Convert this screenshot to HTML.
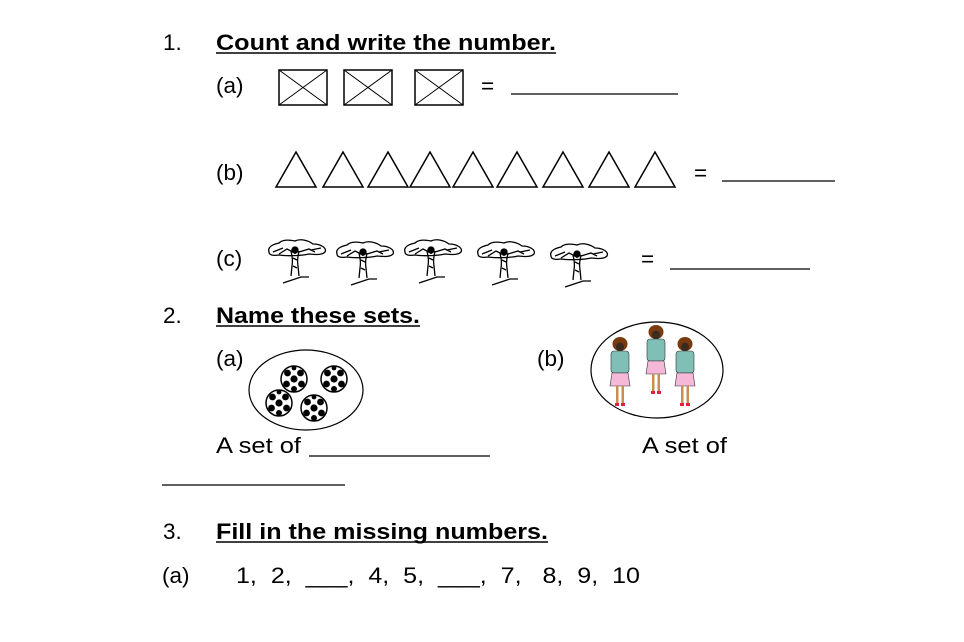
<!DOCTYPE html>
<html><head><meta charset="utf-8"><style>
html,body{margin:0;padding:0;background:#fff;width:964px;height:642px;overflow:hidden}
svg{display:block}
text{font-family:"Liberation Sans",Arial,sans-serif;font-size:22.5px;fill:#000}
.b{font-weight:bold}
</style></head><body>
<svg width="964" height="642" viewBox="0 0 964 642" xmlns="http://www.w3.org/2000/svg">
<defs>
<g id="box"><rect x="0" y="0" width="48" height="35" fill="none" stroke="#000" stroke-width="1.5"/><path d="M0 0L48 35M48 0L0 35" stroke="#000" stroke-width="1"/></g>
<g id="tri"><path d="M20 0L40 35H0Z" fill="none" stroke="#000" stroke-width="1.5"/></g>
<g id="tree" fill="none" stroke="#000" stroke-width="1.3">
<path d="M4 14 C2 8 10 6 14 5 C18 1 26 2 30 3 C36 0 44 3 48 6 C56 6 62 10 60 14 C56 18 48 16 44 16 C36 18 20 18 14 17 C8 18 4 17 4 14Z"/>
<path d="M14 16 L22 11 L28 14 M34 14 L44 11 L50 14 M30 10 L30 16 M8 14 L18 10 M46 12 L56 10"/>
<path d="M26 13 C27 18 28 22 27 28 L26 38 M34 13 C33 18 32 22 33 28 L34 38 M28 20 L32 22 M28 28 L32 30"/>
<path d="M18 45 L36 39 L44 39"/>
<circle cx="30" cy="12" r="3" fill="#000"/>
</g>
<g id="ball"><circle r="13" fill="#fff" stroke="#000" stroke-width="1.5"/>
<circle cx="0" cy="0" r="3.6" fill="#000"/><circle cx="-6.5" cy="-6" r="3.4" fill="#000"/><circle cx="6.5" cy="-6" r="3.4" fill="#000"/>
<circle cx="-7.5" cy="5" r="3.4" fill="#000"/><circle cx="7.5" cy="5" r="3.4" fill="#000"/><circle cx="0" cy="10" r="3" fill="#000"/><circle cx="0" cy="-11" r="2.4" fill="#000"/></g>
<g id="girl">
<ellipse cx="0" cy="5" rx="7.5" ry="7" fill="#7a3a10"/>
<ellipse cx="0" cy="8" rx="4" ry="4.5" fill="#3a2a20"/>
<rect x="-9" y="12" width="18" height="22" rx="3" fill="#7fbfb5" stroke="#333" stroke-width="0.6"/>
<path d="M-8 34 L8 34 L10 47 L-10 47Z" fill="#f5b8d6" stroke="#333" stroke-width="0.6"/>
<rect x="-4" y="47" width="2.5" height="18" fill="#c98d50"/><rect x="1.5" y="47" width="2.5" height="18" fill="#c98d50"/>
<rect x="-5" y="64" width="4" height="3" fill="#e02040"/><rect x="1" y="64" width="4" height="3" fill="#e02040"/>
</g>
</defs>

<text x="163" y="50">1.</text>
<text x="216" y="50" class="b" textLength="340" lengthAdjust="spacingAndGlyphs">Count and write the number.</text>
<line x1="216" y1="53" x2="556" y2="53" stroke="#000" stroke-width="1.5"/>

<text x="216" y="93">(a)</text>
<use href="#box" x="279" y="70"/><use href="#box" x="344" y="70"/><use href="#box" x="415" y="70"/>
<text x="481" y="93">=</text>
<line x1="511" y1="94" x2="678" y2="94" stroke="#000" stroke-width="1.3"/>

<text x="216" y="180">(b)</text>
<use href="#tri" x="276" y="152"/><use href="#tri" x="323" y="152"/><use href="#tri" x="368" y="152"/>
<use href="#tri" x="410" y="152"/><use href="#tri" x="453" y="152"/><use href="#tri" x="497" y="152"/>
<use href="#tri" x="543" y="152"/><use href="#tri" x="589" y="152"/><use href="#tri" x="635" y="152"/>
<text x="694" y="180">=</text>
<line x1="722" y1="181" x2="835" y2="181" stroke="#000" stroke-width="1.3"/>

<text x="216" y="266">(c)</text>
<use href="#tree" x="265" y="238"/><use href="#tree" x="333" y="240"/><use href="#tree" x="401" y="238"/>
<use href="#tree" x="474" y="240"/><use href="#tree" x="547" y="242"/>
<text x="641" y="266">=</text>
<line x1="670" y1="269" x2="810" y2="269" stroke="#000" stroke-width="1.3"/>

<text x="163" y="323">2.</text>
<text x="216" y="323" class="b" textLength="204" lengthAdjust="spacingAndGlyphs">Name these sets.</text>
<line x1="216" y1="326" x2="420" y2="326" stroke="#000" stroke-width="1.5"/>

<text x="216" y="366">(a)</text>
<ellipse cx="306" cy="390" rx="57" ry="40" fill="none" stroke="#000" stroke-width="1.2"/>
<use href="#ball" x="294" y="379"/><use href="#ball" x="334" y="379"/><use href="#ball" x="279" y="403"/><use href="#ball" x="314" y="408"/>

<text x="537" y="366">(b)</text>
<ellipse cx="657" cy="370" rx="66" ry="48" fill="none" stroke="#000" stroke-width="1.2"/>
<use href="#girl" x="620" y="339"/><use href="#girl" x="656" y="327"/><use href="#girl" x="685" y="339"/>

<text x="216" y="453" textLength="85" lengthAdjust="spacingAndGlyphs">A set of</text>
<line x1="309" y1="456" x2="490" y2="456" stroke="#000" stroke-width="1.3"/>
<text x="642" y="453" textLength="85" lengthAdjust="spacingAndGlyphs">A set of</text>
<line x1="162" y1="485" x2="345" y2="485" stroke="#000" stroke-width="1.3"/>

<text x="163" y="539">3.</text>
<text x="216" y="539" class="b" textLength="332" lengthAdjust="spacingAndGlyphs">Fill in the missing numbers.</text>
<line x1="216" y1="542" x2="548" y2="542" stroke="#000" stroke-width="1.5"/>

<text x="162" y="583">(a)</text>
<text x="236" y="583" xml:space="preserve" textLength="404" lengthAdjust="spacingAndGlyphs">1,  2,  ___,  4,  5,  ___,  7,   8,  9,  10</text>
</svg>
</body></html>
